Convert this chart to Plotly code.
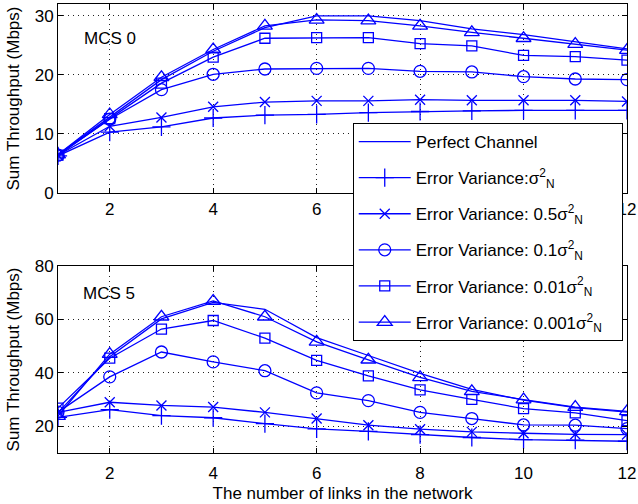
import plotly.graph_objects as go

links = list(range(1, 13))

# MCS 0 (top)
perfect_top = [6.5, 12.8, 19.2, 24.0, 28.0, 30.0, 30.0, 29.2, 27.8, 26.8, 25.6, 24.4]
var1_top = [6.3, 10.3, 11.2, 12.7, 13.2, 13.3, 13.6, 13.8, 13.9, 14.0, 14.0, 14.0]
var05_top = [6.4, 11.3, 12.8, 14.6, 15.4, 15.6, 15.6, 15.8, 15.7, 15.7, 15.7, 15.5]
var01_top = [6.4, 12.5, 17.5, 20.1, 21.0, 21.1, 21.1, 20.6, 20.5, 19.7, 19.3, 19.2]
var001_top = [6.4, 12.6, 18.6, 23.0, 26.2, 26.3, 26.3, 25.3, 24.9, 23.3, 23.1, 22.5]
var0001_top = [6.5, 13.3, 19.6, 24.3, 28.3, 29.3, 29.2, 28.3, 27.2, 26.2, 25.2, 24.2]

# MCS 5 (bottom)
perfect_bot = [25.0, 46.0, 60.2, 66.4, 63.8, 53.2, 46.5, 39.8, 33.8, 29.8, 27.0, 25.3]
var1_bot = [23.3, 26.2, 24.0, 23.2, 21.0, 19.0, 18.1, 16.9, 15.8, 15.0, 14.8, 14.4]
var05_bot = [25.2, 29.0, 27.8, 27.2, 25.2, 22.9, 20.4, 18.9, 17.9, 17.4, 17.0, 16.9]
var01_bot = [25.3, 38.5, 47.8, 44.1, 40.8, 32.5, 29.6, 25.2, 22.9, 20.5, 20.4, 19.1]
var001_bot = [26.8, 45.5, 56.4, 59.6, 53.0, 44.7, 38.9, 33.6, 30.1, 26.6, 25.0, 22.1]
var0001_bot = [23.8, 47.0, 61.0, 66.9, 61.0, 51.6, 44.9, 38.3, 33.1, 30.0, 27.2, 25.6]

names = [
    "Perfect Channel",
    "Error Variance:σ<sup>2</sup><sub>N</sub>",
    "Error Variance: 0.5σ<sup>2</sup><sub>N</sub>",
    "Error Variance: 0.1σ<sup>2</sup><sub>N</sub>",
    "Error Variance: 0.01σ<sup>2</sup><sub>N</sub>",
    "Error Variance: 0.001σ<sup>2</sup><sub>N</sub>&nbsp;&nbsp;&nbsp;",
]
symbols = [None, "cross-thin-open", "x-thin-open", "circle-open", "square-open", "triangle-up-open"]
sizes = [0, 13, 10, 12, 10, 13]

top_series = [perfect_top, var1_top, var05_top, var01_top, var001_top, var0001_top]
bot_series = [perfect_bot, var1_bot, var05_bot, var01_bot, var001_bot, var0001_bot]

BLUE = "#0000FF"
FONT = "Liberation Sans, Arial, sans-serif"
FS = 17

fig = go.Figure()
for i, (name, sym, sz) in enumerate(zip(names, symbols, sizes)):
    for ser, xa, ya, show in [(top_series[i], "x", "y", True), (bot_series[i], "x2", "y2", False)]:
        if sym is None:
            mode = "lines"
            marker = None
        else:
            mode = "lines+markers"
            marker = dict(symbol=sym, size=sz, color=BLUE, line=dict(color=BLUE, width=1.3))
        fig.add_trace(go.Scatter(
            x=links, y=ser, xaxis=xa, yaxis=ya, mode=mode, name=name,
            legendgroup=f"g{i}", showlegend=show,
            line=dict(color=BLUE, width=1.3), marker=marker,
        ))

axis_common = dict(
    showline=True, linecolor="black", linewidth=1, mirror="ticks",
    ticks="inside", ticklen=5, tickcolor="black", automargin=False,
    showgrid=True, gridcolor="#222222", griddash="1px,4px", gridwidth=1,
    zeroline=False, tickfont=dict(size=FS, color="black", family=FONT),
)

fig.update_layout(
    width=638, height=504,
    margin=dict(l=58, r=11, t=4, b=51),
    paper_bgcolor="white", plot_bgcolor="white",
    font=dict(family=FONT, color="black"),
    xaxis=dict(domain=[0, 1], range=[1, 12], tickvals=[2, 4, 6, 8, 10, 12], anchor="y",
               ticklabelstandoff=1, **axis_common),
    yaxis=dict(domain=[0.579, 1], range=[0, 32], tickvals=[0, 10, 20, 30], anchor="x",
               title=dict(text="Sum Throughput (Mbps)", font=dict(size=FS), standoff=10), **axis_common),
    xaxis2=dict(domain=[0, 1], range=[1, 12], tickvals=[2, 4, 6, 8, 10, 12], anchor="y2",
                ticklabelstandoff=5,
                title=dict(text="The number of links in the network", font=dict(size=FS), standoff=4), **axis_common),
    yaxis2=dict(domain=[0, 0.4165], range=[10, 80], tickvals=[20, 40, 60, 80], anchor="x2",
                title=dict(text="Sum Throughput (Mbps)", font=dict(size=FS), standoff=10), **axis_common),
    legend=dict(
        x=0.518, y=0.735, xanchor="left", yanchor="top",
        bgcolor="white", bordercolor="black", borderwidth=1,
        font=dict(size=FS, family=FONT, color="black"),
        tracegroupgap=11, itemwidth=52,
    ),
    annotations=[
        dict(text="MCS 0", xref="paper", yref="paper", x=0.042, y=0.924, showarrow=False,
             xanchor="left", yanchor="middle", font=dict(size=FS, family=FONT)),
        dict(text="MCS 5", xref="paper", yref="paper", x=0.040, y=0.356, showarrow=False,
             xanchor="left", yanchor="middle", font=dict(size=FS, family=FONT)),
    ],
)

fig.write_html("out.html", config={"displayModeBar": False},
               post_script="document.body.style.margin='0';")
